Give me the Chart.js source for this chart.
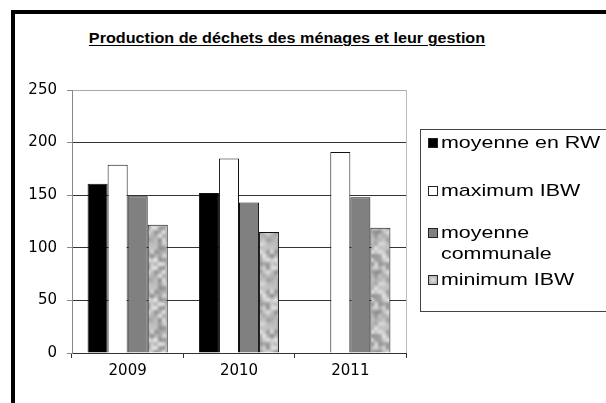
<!DOCTYPE html>
<html>
<head>
<meta charset="utf-8">
<script src="https://cdn.jsdelivr.net/npm/chart.js@4"></script>
<style>
  html, body { margin: 0; padding: 0; background: #fff; }
  body { width: 606px; height: 403px; position: relative; overflow: hidden; font-family: 'Liberation Sans', Arial, sans-serif; }
  #frame { position: absolute; left: 11px; top: 10px; width: 700px; height: 500px; border-left: 4px solid #000; border-top: 4px solid #000; }
  #title { position: absolute; left: 0; top: 30px; width: 574px; text-align: center; font-weight: bold; font-size: 14px; line-height: 16px;
           text-decoration: underline; text-underline-offset: 2px; transform: scaleX(1.155); transform-origin: 287px 0; white-space: nowrap; }
  #chartWrap { position: absolute; left: 0; top: 0; width: 606px; height: 403px; }
  #legend { position: absolute; left: 420px; top: 129px; width: 250px; height: 181px; border: 1px solid #444; }
  .item { position: absolute; left: 428px; font-size: 17px; line-height: 21px; }
  .sw { position: absolute; left: 0; width: 8px; height: 8px; border: 1px solid #222; }
  .txt { position: absolute; left: 13px; top: 0; width: 135px; transform: scaleX(1.26); transform-origin: 0 0; color: #000; }
</style>
</head>
<body>
<div id="frame"></div>
<div id="title">Production de déchets des ménages et leur gestion</div>
<div id="chartWrap"><canvas id="c" width="606" height="403"></canvas></div>
<div id="legend"></div>
<script>
const YEARS = ['2009', '2010', '2011'];
const SERIES_NAMES = ['moyenne en RW', 'maximum IBW', 'moyenne communale', 'minimum IBW'];
const MOYENNE_RW = [161, 152, null];
const MAXIMUM_IBW = [179, 185, 191];
const MOYENNE_COMMUNALE = [149, 143, 148];
const MINIMUM_IBW = [122, 115, 119];
const Y_MIN = 0;
const Y_MAX = 250;
const Y_STEP = 50;

// mottled grey fill for the "minimum IBW" bars (fixed hash, no randomness)
function makeTexture() {
  const N = 10, SCALE = 4;
  const small = document.createElement('canvas');
  small.width = N + 1; small.height = N + 1;
  const s = small.getContext('2d');
  const hash = (x, y) => {
    const v = Math.sin((x % N) * 12.9898 + (y % N) * 78.233) * 43758.5453;
    return v - Math.floor(v);
  };
  for (let y = 0; y <= N; y++) {
    for (let x = 0; x <= N; x++) {
      const g = Math.round(140 + hash(x, y) * 95);
      s.fillStyle = `rgb(${g},${g},${g})`;
      s.fillRect(x, y, 1, 1);
    }
  }
  const tile = document.createElement('canvas');
  tile.width = N * SCALE; tile.height = N * SCALE;
  const t = tile.getContext('2d');
  t.imageSmoothingEnabled = true;
  t.drawImage(small, 0.5, 0.5, N, N, 0, 0, N * SCALE, N * SCALE);
  return t.createPattern(tile, 'repeat');
}

const COLORS = ['#000000', '#ffffff', '#808080', null];
const SWATCH = ['#000000', '#ffffff', '#808080', 'radial-gradient(#e0e0e0, #a8a8a8)'];
const SERIES_DATA = [MOYENNE_RW, MAXIMUM_IBW, MOYENNE_COMMUNALE, MINIMUM_IBW];

const ctx = document.getElementById('c').getContext('2d');
const texture = makeTexture();

const plotFrame = {
  id: 'plotFrame',
  afterDraw(chart) {
    const a = chart.chartArea;
    const c = chart.ctx;
    c.save();
    c.strokeStyle = '#bbb';
    c.lineWidth = 1;
    c.beginPath();
    c.moveTo(Math.round(a.right) + 0.5, a.top);
    c.lineTo(Math.round(a.right) + 0.5, a.bottom);
    c.stroke();
    c.restore();
  },
};

new Chart(ctx, {
  type: 'bar',
  data: {
    labels: YEARS,
    datasets: SERIES_NAMES.map((name, i) => ({
      label: name,
      data: SERIES_DATA[i],
      backgroundColor: COLORS[i] || texture,
      borderColor: '#111',
      borderWidth: 1,
      barPercentage: 1,
      categoryPercentage: 0.72,
    })),
  },
  options: {
    responsive: false,
    animation: false,
    layout: { padding: { left: 0, top: 90, right: 200, bottom: 0 } },
    plugins: {
      legend: { display: false },
      title: { display: false },
      tooltip: { enabled: false },
    },
    scales: {
      x: {
        afterFit: s => { s.height = 50; },
        grid: { offset: true, drawOnChartArea: false, drawTicks: true, tickLength: 5, tickColor: '#333' },
        border: { color: '#333', width: 1 },
        ticks: { color: '#000', padding: 4, font: { family: 'DejaVu Sans', size: 15 } },
      },
      y: {
        min: Y_MIN,
        max: Y_MAX,
        afterFit: s => { s.width = 72; },
        ticks: { stepSize: Y_STEP, color: '#000', padding: 10, font: { family: 'DejaVu Sans', size: 15 } },
        grid: {
          color: c => (c.tick.value === Y_MAX ? '#aaa' : '#333'),
          tickColor: '#888',
          tickLength: 5,
        },
        border: { color: '#888', width: 1 },
      },
    },
  },
  plugins: [plotFrame],
});

// legend, built from the series names
const LEGEND_TOPS = [132, 180, 222, 269];
SERIES_NAMES.forEach((name, i) => {
  const item = document.createElement('div');
  item.className = 'item';
  item.style.top = LEGEND_TOPS[i] + 'px';
  const sw = document.createElement('div');
  sw.className = 'sw';
  sw.style.top = '6px';
  sw.style.background = SWATCH[i];
  const tx = document.createElement('div');
  tx.className = 'txt';
  tx.textContent = name;
  item.appendChild(sw);
  item.appendChild(tx);
  document.body.appendChild(item);
});
</script>
</body>
</html>
